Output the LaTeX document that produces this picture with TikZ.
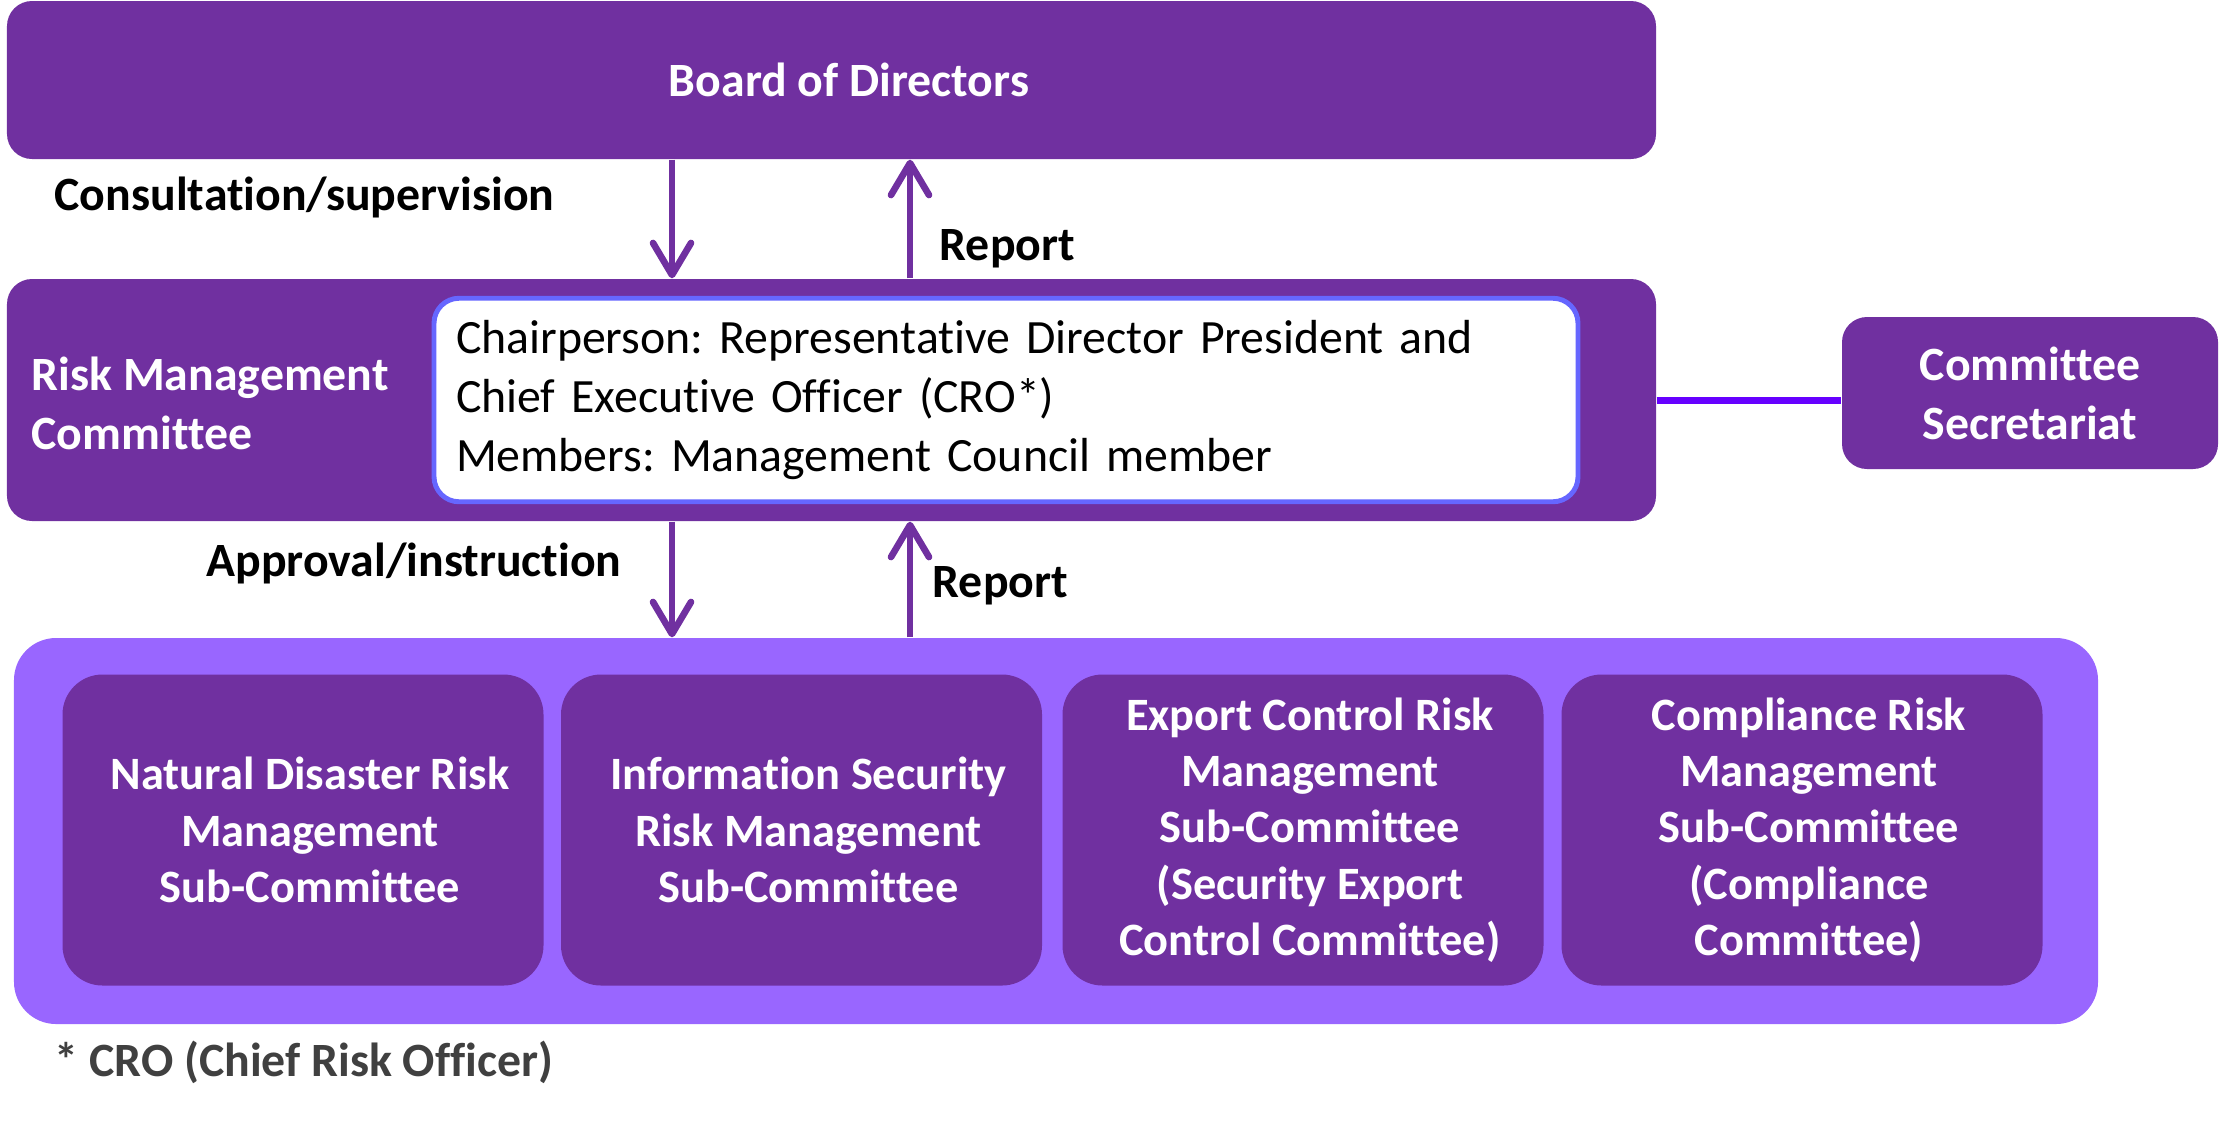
\documentclass[tikz,border=0pt]{standalone}
\usepackage{fontspec}
\setmainfont{Carlito}[Ligatures=NoCommon]
\usepackage{tikz}
\usetikzlibrary{arrows.meta,positioning}
\frenchspacing
\definecolor{boxpurple}{HTML}{7030A0}
\definecolor{lightpurple}{HTML}{9966FF}
\definecolor{edgeblue}{HTML}{6666FF}
\definecolor{linkviolet}{HTML}{6600FF}
\definecolor{notegray}{HTML}{404040}
\tikzstyle{unit}=[rectangle,rounded corners=0.25cm,fill=boxpurple,text=white,font=\fontsize{13.6}{16.8}\selectfont\bfseries,align=center,inner sep=0pt]
\tikzstyle{subunit}=[rectangle,rounded corners=0.4cm,fill=boxpurple,minimum width=4.81cm,minimum height=3.11cm]
\tikzstyle{subtext}=[text=white,font=\fontsize{13.2}{16.0}\selectfont\bfseries,align=center,inner sep=0pt]
\tikzstyle{group}=[rectangle,rounded corners=0.42cm,fill=lightpurple,minimum width=20.84cm,minimum height=3.86cm]
\tikzstyle{members}=[rectangle,rounded corners=0.25cm,draw=edgeblue,line width=1.4pt,fill=white,text=black,font=\fontsize{13.6}{16.8}\selectfont,align=left,text width=11.0cm,inner sep=0.22cm,minimum height=1.96cm]
\tikzstyle{whitetext}=[text=white,font=\fontsize{13.6}{16.8}\selectfont\bfseries,inner sep=0pt]
\tikzstyle{flowtext}=[text=black,font=\fontsize{13.6}{16.8}\selectfont\bfseries,inner sep=0pt]
\tikzstyle{flow} = [draw=boxpurple,line width=1.9pt,-{Straight Barb[round,length=3.2mm,width=3.8mm]}]
\tikzstyle{link} = [draw=linkviolet,line width=2pt]

\begin{document}
\begin{tikzpicture}
    \useasboundingbox (0,0) rectangle (22.2,-11.22);
    % First we draw the committee boxes
    \node[unit,minimum width=16.49cm,minimum height=1.58cm] (board) at (8.315,-0.80) {};
    \node[whitetext] (boardtitle) at (8.49,-0.80) {Board of Directors};
    \node[unit,minimum width=16.49cm,minimum height=2.42cm] (rmc) at (8.315,-4.00) {};
    \node[whitetext,anchor=west,align=left] (rmctitle) at (0.31,-4.03) {Risk Management\\Committee};
    \node[members] (chair) at (10.06,-4.00) {Chairperson: Representative Director President and\\Chief Executive Officer (CRO*)\\Members: Management Council member};
    \node[unit,minimum width=3.76cm,minimum height=1.52cm] (secretariat) at (20.30,-3.93) {Committee\\Secretariat};
    % Then the sub-committees
    \node[group] (subs) at (10.56,-8.31) {};
    \foreach \pos/\name/\desc in {{(3.03,-8.30)/disaster/Natural Disaster Risk\\Management\\Sub-Committee},
                                  {(8.015,-8.30)/infosec/Information Security\\Risk Management\\Sub-Committee},
                                  {(13.03,-8.30)/export/Export Control Risk\\Management\\Sub-Committee\\(Security Export\\Control Committee)},
                                  {(18.02,-8.30)/compliance/Compliance Risk\\Management\\Sub-Committee\\(Compliance\\Committee)}}
    {
        \node[subunit] (\name) at \pos {};
        \node[subtext,xshift=0.07cm] (\name text) at (\name) {\desc};
    }
    % Connect boxes with arrows
    \coordinate (down) at (6.72,0);
    \coordinate (up) at (9.10,0);
    \path[flow] (down |- board.south) -- (down |- rmc.north);
    \path[flow] (up |- rmc.north) -- (up |- board.south);
    \path[flow] (down |- rmc.south) -- (down |- subs.north);
    \path[flow] (up |- subs.north) -- (up |- rmc.south);
    \path[link] (rmc.east) -- (rmc.east -| secretariat.west);
    % Labels on the arrows
    \node[flowtext,anchor=west] (consult) at (0.54,-1.97) {Consultation/supervision};
    \node[flowtext,anchor=west] (reportup) at (9.39,-2.49) {Report};
    \node[flowtext,anchor=east] (approve) at (6.22,-5.63) {Approval/instruction};
    \node[flowtext,anchor=west] (reportdown) at (9.32,-5.86) {Report};
    \node[flowtext,text=notegray,anchor=west] (note) at (0.54,-10.62) {* CRO (Chief Risk Officer)};
\end{tikzpicture}
\end{document}
